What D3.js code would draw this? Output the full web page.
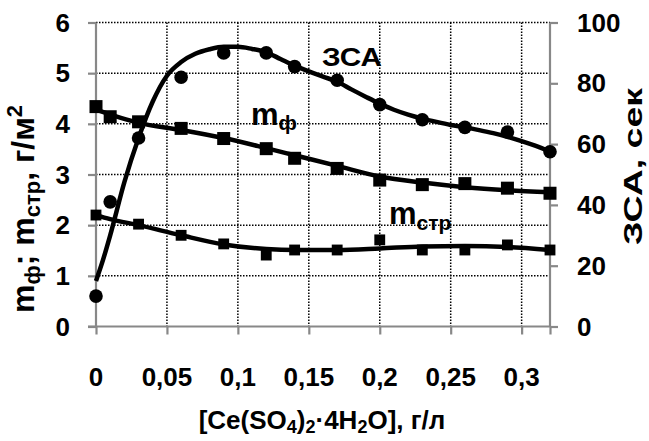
<!DOCTYPE html>
<html><head><meta charset="utf-8">
<script src="https://cdn.jsdelivr.net/npm/d3@7"></script>
<style>
body{margin:0;background:#fff}
svg{display:block}
text{font-family:"Liberation Sans",Arial,sans-serif;font-weight:bold;fill:#000}
</style>
</head><body><svg id="c" width="649" height="441"></svg>
<script>
// ---- data ----
const xTicks=[0,0.05,0.1,0.15,0.2,0.25,0.3];
const xTickLabels=["0","0,05","0,1","0,15","0,2","0,25","0,3"];
const yLeftTicks=[0,1,2,3,4,5,6];
const yRightTicks=[0,20,40,60,80,100];

const zsaX=[0,0.01,0.03,0.06,0.09,0.12,0.14,0.17,0.2,0.23,0.26,0.29,0.32];
const zsaY=[10,41,62,82,90,90,85.5,81,73,68,65.5,64,57.5];
const zsaFitX=[0,0.005,0.01,0.02,0.03,0.04,0.05,0.06,0.07,0.08,0.09,0.1,0.11,0.12,0.13,0.14,0.15,0.16,0.17,0.18,0.19,0.2,0.21,0.22,0.23,0.24,0.25,0.26,0.27,0.28,0.29,0.3,0.31,0.32];
const zsaFitY=[15,22,30,47.5,62,74,82.5,87,89.7,91.2,92,92,91.3,90.2,88,85.8,83.9,82.2,80.5,78,75.6,73.3,71.3,69.7,68.4,67.3,66.3,65.5,64.6,63.6,62.4,61,59.4,57.5];

const mfX=[0,0.01,0.03,0.06,0.09,0.12,0.14,0.17,0.2,0.23,0.26,0.29,0.32];
const mfY=[4.34,4.14,4.04,3.91,3.71,3.51,3.32,3.12,2.89,2.80,2.82,2.73,2.63];
const mfFitX=[0,0.03,0.06,0.09,0.12,0.14,0.17,0.2,0.23,0.26,0.29,0.32];
const mfFitY=[4.28,4.02,3.88,3.72,3.52,3.38,3.17,2.96,2.84,2.75,2.69,2.65];

const mstrX=[0,0.03,0.06,0.09,0.12,0.14,0.17,0.2,0.23,0.26,0.29,0.32];
const mstrY=[2.2,2.02,1.8,1.63,1.41,1.51,1.51,1.71,1.51,1.51,1.61,1.51];
const mstrFitX=[0,0.01,0.03,0.06,0.09,0.12,0.14,0.17,0.2,0.23,0.26,0.29,0.32];
const mstrFitY=[2.2,2.12,2.0,1.8,1.62,1.53,1.51,1.51,1.54,1.58,1.59,1.57,1.51];

// ---- layout ----
const svg=d3.select("#c");
const L=96,R=550,T=22.5,B=326.5;
const x=d3.scaleLinear().domain([0,0.32]).range([L,R]);
const yL=d3.scaleLinear().domain([0,6]).range([B,T]);
const yR=d3.scaleLinear().domain([0,100]).range([B,T]);
const axisCol="#888";

// grid
const g=svg.append("g");
g.selectAll(".hg").data(yLeftTicks.filter(d=>d>0)).join("line")
 .attr("x1",L).attr("x2",R).attr("y1",d=>yL(d)).attr("y2",d=>yL(d))
 .attr("stroke","#000").attr("stroke-width",1.5).attr("stroke-dasharray","1.5,1.5");
g.selectAll(".vg").data(xTicks.filter(d=>d>0)).join("line")
 .attr("x1",d=>x(d)).attr("x2",d=>x(d)).attr("y1",T).attr("y2",B)
 .attr("stroke","#000").attr("stroke-width",1.5).attr("stroke-dasharray","1.5,1.5");

// axes
const ax=svg.append("g").attr("transform",`translate(0,${B})`)
 .call(d3.axisBottom(x).tickValues(xTicks.concat([0.32])).tickSize(8).tickFormat(""));
const ayl=svg.append("g").attr("transform",`translate(${L},0)`)
 .call(d3.axisLeft(yL).tickValues(yLeftTicks).tickSize(8).tickFormat(""));
const ayr=svg.append("g").attr("transform",`translate(${R},0)`)
 .call(d3.axisRight(yR).tickValues(yRightTicks).tickSize(8).tickFormat(""));
[ax,ayl,ayr].forEach(a=>{a.selectAll("path,line").attr("stroke",axisCol).attr("stroke-width",2.2);});
ax.select(".domain").attr("d",`M${L-8},0H${R}`);
ayl.select(".domain").attr("d",`M0,${B}V${T}`);
ayr.select(".domain").attr("d",`M0,${B}V${T}`);

// tick labels
svg.selectAll(".xl").data(xTicks).join("text")
 .attr("x",d=>x(d)).attr("y",386).attr("text-anchor","middle").attr("font-size",26)
 .text((d,i)=>xTickLabels[i]);
svg.selectAll(".yll").data(yLeftTicks).join("text")
 .attr("x",70).attr("y",d=>yL(d)+9).attr("text-anchor","end").attr("font-size",26).text(d=>d);
svg.selectAll(".yrl").data(yRightTicks).join("text")
 .attr("x",577).attr("y",d=>yR(d)+9).attr("text-anchor","start").attr("font-size",26).text(d=>d);

// lines
const lineL=d3.line().x(d=>x(d[0])).y(d=>yL(d[1])).curve(d3.curveMonotoneX);
const lineR=d3.line().x(d=>x(d[0])).y(d=>yR(d[1])).curve(d3.curveMonotoneX);
svg.append("path").attr("d",lineL(d3.zip(mstrFitX,mstrFitY))).attr("fill","none").attr("stroke","#000").attr("stroke-width",4.5);
svg.append("path").attr("d",lineL(d3.zip(mfFitX,mfFitY))).attr("fill","none").attr("stroke","#000").attr("stroke-width",4.5);
svg.append("path").attr("d",lineR(d3.zip(zsaFitX,zsaFitY))).attr("fill","none").attr("stroke","#000").attr("stroke-width",4.5);

// markers
svg.selectAll(".mf").data(d3.zip(mfX,mfY)).join("rect")
 .attr("x",d=>x(d[0])-6.5).attr("y",d=>yL(d[1])-6.5).attr("width",13).attr("height",13).attr("fill","#000");
svg.selectAll(".ms").data(d3.zip(mstrX,mstrY)).join("path")
 .attr("d",d3.symbol(d3.symbolDiamond2,150))
 .attr("transform",d=>`translate(${x(d[0])},${yL(d[1])}) rotate(45)`).attr("fill","#000");
svg.selectAll(".zs").data(d3.zip(zsaX,zsaY)).join("circle")
 .attr("cx",d=>x(d[0])).attr("cy",d=>yR(d[1])).attr("r",6.8).attr("fill","#000");

// series labels
svg.append("text").attr("x",322).attr("y",66).attr("font-size",25).attr("textLength",60).attr("lengthAdjust","spacingAndGlyphs").text("ЗСА");
const t1=svg.append("text").attr("x",251).attr("y",125).attr("font-size",31);
t1.append("tspan").text("m");
t1.append("tspan").attr("font-size",21).attr("dy",5).text("ф");
const t2=svg.append("text").attr("x",389).attr("y",224).attr("font-size",31);
t2.append("tspan").text("m");
t2.append("tspan").attr("font-size",21).attr("dy",6).text("стр");

// axis titles
const xt=svg.append("text").attr("x",322).attr("y",429).attr("text-anchor","middle").attr("font-size",26);
xt.append("tspan").text("[Ce(SO");
xt.append("tspan").attr("font-size",18).attr("dy",4).text("4");
xt.append("tspan").attr("dy",-4).text(")");
xt.append("tspan").attr("font-size",18).attr("dy",4).text("2");
xt.append("tspan").attr("dy",-4).text("·4H");
xt.append("tspan").attr("font-size",18).attr("dy",4).text("2");
xt.append("tspan").attr("dy",-4).text("O], г/л");

const lt=svg.append("text").attr("transform","translate(34,313) rotate(-90)").attr("font-size",32);
lt.append("tspan").text("m");
lt.append("tspan").attr("font-size",22).attr("dy",6).text("ф");
lt.append("tspan").attr("dy",-6).text("; m");
lt.append("tspan").attr("font-size",22).attr("dy",6).text("стр");
lt.append("tspan").attr("dy",-6).text(", г/м");
lt.append("tspan").attr("font-size",22).attr("dy",-12).text("2");

svg.append("text").attr("transform","translate(642,245) rotate(-90)").attr("font-size",25)
 .attr("textLength",157).attr("lengthAdjust","spacingAndGlyphs").text("ЗСА, сек");
</script>
</body></html>
